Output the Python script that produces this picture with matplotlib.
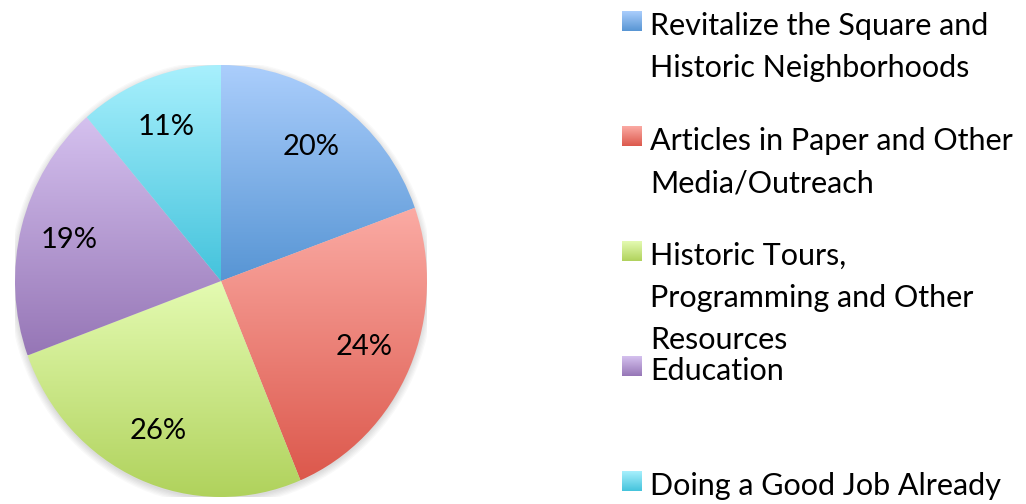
import matplotlib
matplotlib.use('Agg')

import numpy as np
import matplotlib.pyplot as plt
from matplotlib.colors import LinearSegmentedColormap
from matplotlib.patches import Ellipse

# Data
categories = [
    "Revitalize the Square and\nHistoric Neighborhoods",
    "Articles in Paper and Other\nMedia/Outreach",
    "Historic Tours,\nProgramming and Other\nResources",
    "Education",
    "Doing a Good Job Already",
]
# slice sizes (labels show rounded percentages)
shares = [19.5, 24.2, 25.7, 19.3, 11.3]
pct_labels = ["20%", "24%", "26%", "19%", "11%"]

# light (top) and dark (bottom) colour of each slice gradient
top_colors = ["#abcefc", "#fbaba4", "#e4fbb2", "#d5c1ef", "#a8f0fd"]
bottom_colors = ["#5795d4", "#dc584c", "#b0d25c", "#9676b6", "#44c3dc"]

plt.rcParams['font.family'] = ['Lato', 'DejaVu Sans']

W, H = 1026, 504
fig = plt.figure(figsize=(W / 100, H / 100), dpi=100)

# Pie (a little taller than wide, like the original)
ax = fig.add_axes([15 / W, 7 / H, 412 / W, 432 / H])

# soft shadow round the pie
for k in range(6):
    ax.add_patch(Ellipse((0.0, -0.01), 2 + 0.012 * k, 2 + 0.012 * k,
                         facecolor="#000000", alpha=0.025, linewidth=0, zorder=0))

wedges, texts = ax.pie(shares, startangle=90, counterclock=False,
                       labels=pct_labels, labeldistance=0.76,
                       wedgeprops=dict(linewidth=0),
                       textprops=dict(fontsize=21, color="black"))

grad = np.linspace(1, 0, 256).reshape(-1, 1)
for w, c1, c2 in zip(wedges, top_colors, bottom_colors):
    cmap = LinearSegmentedColormap.from_list("g", [c2, c1])
    bb = w.get_path().get_extents()
    im = ax.imshow(grad, extent=[bb.x0, bb.x1, bb.y0, bb.y1], origin="upper",
                   aspect="auto", cmap=cmap, vmin=0, vmax=1, zorder=1)
    im.set_clip_path(w)
    w.set_facecolor("none")

for t in texts:
    t.set_ha("center")
    t.set_va("center")
    t.set_zorder(5)

ax.set_aspect("auto")
ax.set_xlim(-1.0, 1.0)
ax.set_ylim(-1.0, 1.0)
ax.axis("off")

# Legend drawn by hand
line_gap = 42
sq_bottoms = [31, 146, 261, 376, 491]
for i, (lab, c1, c2) in enumerate(zip(categories, top_colors, bottom_colors)):
    yb = sq_bottoms[i]
    sax = fig.add_axes([622 / W, 1 - yb / H, 20 / W, 20 / H])
    sax.imshow(grad, cmap=LinearSegmentedColormap.from_list("s", [c2, c1]),
               aspect="auto", vmin=0, vmax=1)
    sax.axis("off")
    for j, line in enumerate(lab.split("\n")):
        fig.text(650 / W, 1 - (yb + 4 + j * line_gap) / H, line,
                 fontsize=22, ha="left", va="baseline", color="black")

fig.savefig("out.png", dpi=100)
